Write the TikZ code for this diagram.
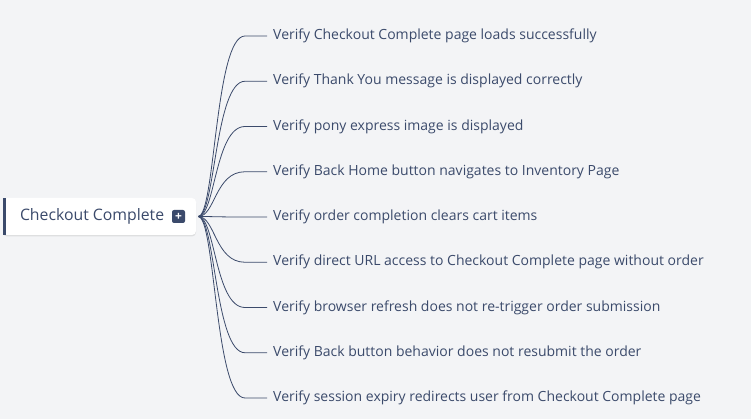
\documentclass[tikz,border=0pt]{standalone}
\usepackage{fontspec}
\setmainfont{Open Sans}
\usetikzlibrary{calc,shadows}
\definecolor{slate}{HTML}{3B4A6B}
\definecolor{canvas}{HTML}{F3F4F6}
\begin{document}
\begin{tikzpicture}[x=1pt,y=-1pt,
	topic/.style={draw=none,fill=white,rounded corners=4pt,minimum width=193pt,minimum height=37pt,
		drop shadow={shadow xshift=0pt,shadow yshift=-1.5pt,opacity=0.18}},
	leaf/.style={anchor=west,inner sep=0pt,text=slate,font=\fontsize{14}{16}\selectfont},
	link/.style={draw=slate,line width=0.8pt}]
	\fill[canvas] (0,0) rectangle (751,419);
	\useasboundingbox (0,0) rectangle (751,419);
	% central topic
	\node[topic] (root) at (99.5,216.5) {};
	\fill[slate] (root.north west) rectangle ([xshift=3pt]root.south west);
	\node[anchor=west,inner sep=0pt,text=slate,font=\fontsize{15.8}{18}\selectfont]
		(title) at ([xshift=17pt]root.west) {Checkout Complete};
	\node[anchor=east,fill=slate,rounded corners=2pt,minimum size=13pt,inner sep=0pt,
		text=white,font=\bfseries\fontsize{12}{12}\selectfont] (plus) at ([xshift=-11pt]root.east) {+};
	% test cases
	\foreach \i/\txt in {
		1/Verify Checkout Complete page loads successfully,
		2/Verify Thank You message is displayed correctly,
		3/Verify pony express image is displayed,
		4/Verify Back Home button navigates to Inventory Page,
		5/Verify order completion clears cart items,
		6/Verify direct URL access to Checkout Complete page without order,
		7/Verify browser refresh does not re-trigger order submission,
		8/Verify Back button behavior does not resubmit the order,
		9/Verify session expiry redirects user from Checkout Complete page}
	{
		\node[leaf] (t\i) at (273,{36+45.25*(\i-1)}) {\txt};
		\draw[link] ([xshift=2pt]root.east) .. controls +(17,0) and +(-30,0) .. ($(t\i.west)+(-28,0)$) -- ($(t\i.west)+(-6,0)$);
	}
\end{tikzpicture}
\end{document}
